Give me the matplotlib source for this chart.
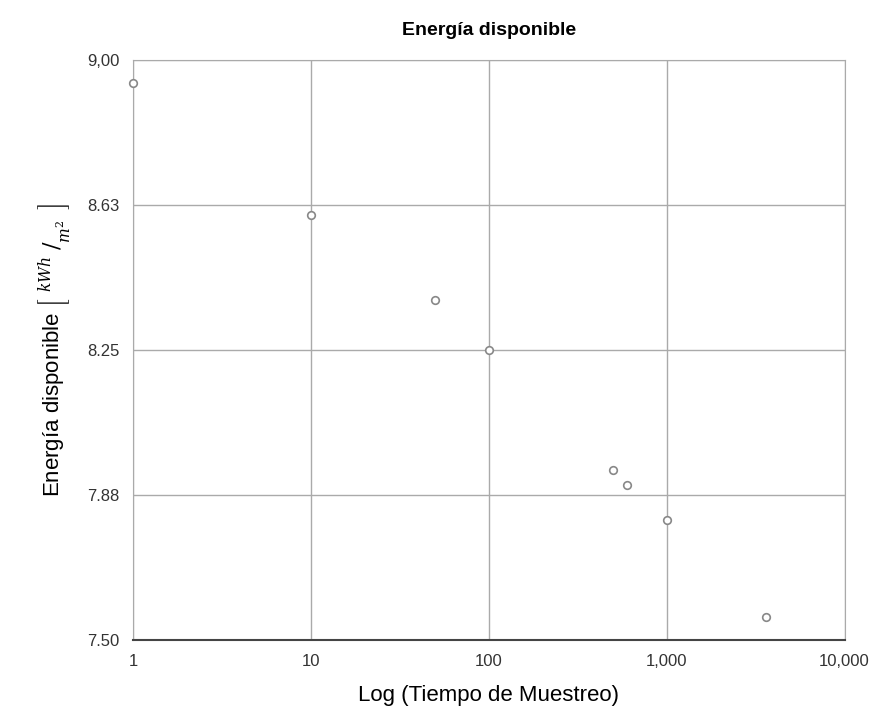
import matplotlib
matplotlib.use('Agg')
import matplotlib.pyplot as plt
from matplotlib.ticker import FixedLocator, FixedFormatter, NullLocator

plt.rcParams['font.family'] = ['Liberation Sans', 'DejaVu Sans']
plt.rcParams['mathtext.fontset'] = 'dejavuserif'

# data
tiempo = [1, 10, 50, 100, 500, 600, 1000, 3600]
energia = [8.94, 8.60, 8.38, 8.25, 7.94, 7.90, 7.81, 7.56]

x_ticks = [1, 10, 100, 1000, 10000]
x_labels = ['1', '10', '100', '1,000', '10,000']
y_ticks = [7.50, 7.875, 8.25, 8.625, 9.00]
y_labels = ['7.50', '7.88', '8.25', '8.63', '9,00']

fig = plt.figure(figsize=(8.77, 7.15), dpi=100)
ax = fig.add_axes([0.152, 0.105, 0.811, 0.811])

ax.set_xscale('log')
ax.set_xlim(1, 10000)
ax.set_ylim(7.50, 9.00)

ax.scatter(tiempo, energia, s=30, facecolors='white', edgecolors='#888888',
           linewidths=1.2, zorder=3, clip_on=False)

ax.xaxis.set_major_locator(FixedLocator(x_ticks))
ax.xaxis.set_major_formatter(FixedFormatter(x_labels))
ax.xaxis.set_minor_locator(NullLocator())
ax.yaxis.set_major_locator(FixedLocator(y_ticks))
ax.yaxis.set_major_formatter(FixedFormatter(y_labels))

ax.grid(True, color='#aaaaaa', linewidth=1.0)
ax.tick_params(length=0, labelsize=12, colors='#333333', pad=10)

for side in ['top', 'right', 'left']:
    ax.spines[side].set_color('#aaaaaa')
ax.spines['bottom'].set_color('#444444')
ax.spines['bottom'].set_linewidth(1.5)

ax.set_title('Energía disponible', fontsize=14, fontweight='bold', pad=18)
ax.set_xlabel('Log (Tiempo de Muestreo)', fontsize=16, labelpad=12)

unidad = (r'$\left[\ \genfrac{}{}{0}{}{kWh}{\,}\,\left/\genfrac{}{}{0}{}{\,}{m^2}'
          r'\right.\ \right]$')
ax.set_ylabel('Energía disponible ' + unidad, fontsize=16, labelpad=10)
try:
    fig.canvas.draw()
except Exception:
    unidad = r'$\left[\ \genfrac{}{}{0}{}{kWh\ }{\ \ \ m^2}\ \right]$'
    ax.set_ylabel('Energía disponible ' + unidad, fontsize=16, labelpad=10)

fig.savefig('out.png', dpi=100, facecolor='white')
